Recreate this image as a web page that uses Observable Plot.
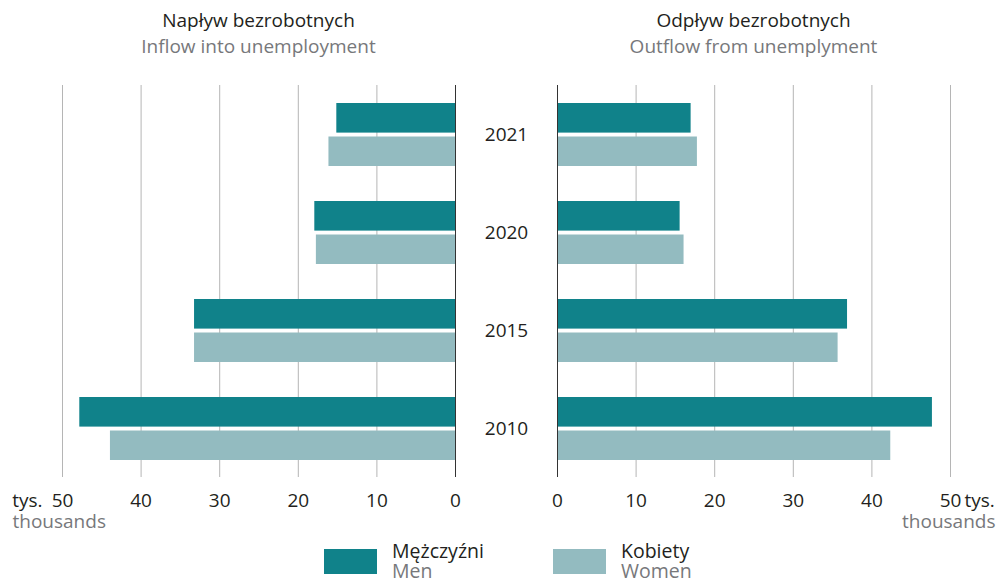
<!DOCTYPE html>
<html>
<head>
<meta charset="utf-8">
<script src="https://cdn.jsdelivr.net/npm/d3@7"></script>
<script src="https://cdn.jsdelivr.net/npm/@observablehq/plot@0.6"></script>
<style>
  html, body { margin: 0; padding: 0; background: #fff; }
  #wrap { position: relative; width: 999px; height: 580px; overflow: hidden; font-family: "Open Sans", sans-serif; }
  .abs { position: absolute; }
  .ttl { font-size: 19px; color: #231f20; text-align: center; line-height: 26px; }
  .sub { color: #77787b; }
  .sw { position: absolute; width: 53px; height: 25px; }
  .lg { position: absolute; font-size: 19.5px; line-height: 20px; color: #231f20; white-space: nowrap; }
</style>
</head>
<body>
<div id="wrap"></div>
<script>
const years = ["2021", "2020", "2015", "2010"];
const inflowMen = [15.1, 17.9, 33.2, 47.8];
const inflowWomen = [16.1, 17.7, 33.2, 43.9];
const outflowMen = [17.0, 15.6, 36.9, 47.7];
const outflowWomen = [17.8, 16.1, 35.7, 42.4];
const ticks = [0, 10, 20, 30, 40, 50];
const gridTicks = [10, 20, 30, 40, 50];

const menColor = "#10828a";
const womenColor = "#93bbc0";
const gridColor = "#b5b5b5";
const textColor = "#231f20";
const grayText = "#77787b";
const font = "Open Sans";
const fs = 19;

const inflow = years.map((y, i) => ({year: y, men: inflowMen[i], women: inflowWomen[i]}));
const outflow = years.map((y, i) => ({year: y, men: outflowMen[i], women: outflowWomen[i]}));

const wrap = document.getElementById("wrap");

function panel(data, side) {
  const left = side === "left";
  const marks = [
    Plot.ruleX(gridTicks, {stroke: gridColor, strokeWidth: 1}),
    Plot.barX(data, {x: "men", y: "year", fill: menColor, insetBottom: 33.4}),
    Plot.barX(data, {x: "women", y: "year", fill: womenColor, insetTop: 33.5}),
    Plot.ruleX([0], {stroke: "#333", strokeWidth: 1}),
    Plot.text(ticks, {x: d => d, frameAnchor: "bottom", dy: 29, text: d => String(d), fill: textColor, fontSize: fs, fontFamily: font}),
    Plot.text(["tys."], {x: () => 50, frameAnchor: "bottom", dy: 29, dx: left ? -20 : 14, textAnchor: left ? "end" : "start", text: d => d, fill: textColor, fontSize: fs, fontFamily: font}),
    Plot.text(["thousands"], {x: () => 50, frameAnchor: "bottom", dy: 50, dx: left ? -50 : 45, textAnchor: left ? "start" : "end", text: d => d, fill: grayText, fontSize: fs, fontFamily: font})
  ];
  if (!left) {
    marks.push(Plot.text(years, {y: d => d, frameAnchor: "left", dx: -51, textAnchor: "middle", text: d => d, fill: textColor, fontSize: fs, fontFamily: font}));
  }
  return Plot.plot({
    width: left ? 460 : 539,
    height: 540,
    marginTop: 85,
    marginBottom: 63,
    marginLeft: left ? 62 : 97,
    marginRight: left ? 5 : 49,
    style: {fontFamily: font, background: "transparent", overflow: "visible"},
    x: {domain: [0, 50], reverse: left, axis: null},
    y: {domain: years, paddingInner: 0.361, paddingOuter: 0.175, axis: null},
    marks
  });
}

const lp = panel(inflow, "left");
lp.style.position = "absolute"; lp.style.left = "0px"; lp.style.top = "0px";
const rp = panel(outflow, "right");
rp.style.position = "absolute"; rp.style.left = "460px"; rp.style.top = "0px";
wrap.appendChild(lp);
wrap.appendChild(rp);

function title(text, sub, cx) {
  const d = document.createElement("div");
  d.className = "abs ttl";
  d.style.left = (cx - 200) + "px";
  d.style.width = "400px";
  d.style.top = "7px";
  d.innerHTML = text + "<br><span class='sub'>" + sub + "</span>";
  wrap.appendChild(d);
}
title("Napływ bezrobotnych", "Inflow into unemployment", 258.5);
title("Odpływ bezrobotnych", "Outflow from unemplyment", 753.5);

function legend(x, color, pl, en) {
  const s = document.createElement("div");
  s.className = "sw";
  s.style.left = x + "px"; s.style.top = "549px"; s.style.background = color;
  wrap.appendChild(s);
  const t = document.createElement("div");
  t.className = "lg";
  t.style.left = (x + 68) + "px"; t.style.top = "541px";
  t.innerHTML = pl + "<br><span style='color:" + grayText + "'>" + en + "</span>";
  wrap.appendChild(t);
}
legend(324, menColor, "Mężczyźni", "Men");
legend(553, womenColor, "Kobiety", "Women");
</script>
</body>
</html>
